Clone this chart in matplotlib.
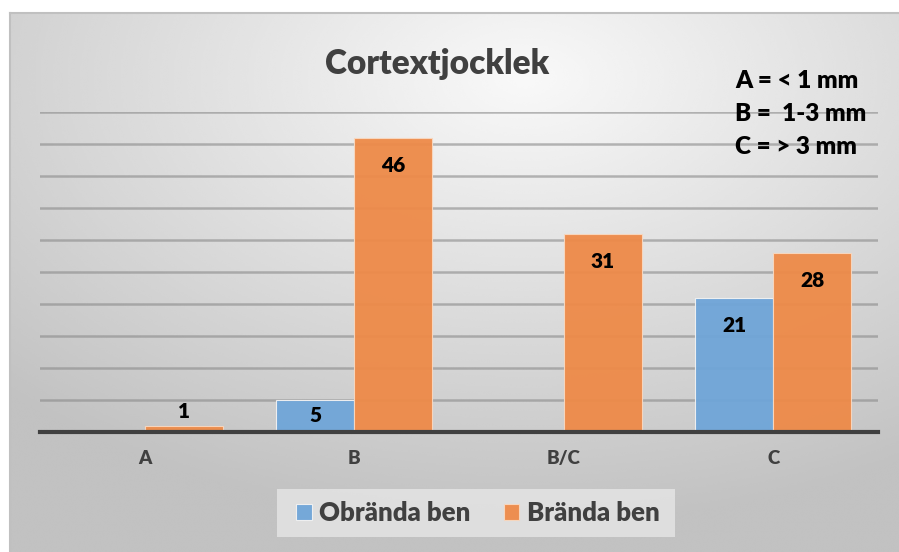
import matplotlib.pyplot as plt
import numpy as np
from matplotlib.patches import Rectangle

# data
categories = ['A', 'B', 'B/C', 'C']
obrande = [0, 5, 0, 21]
brande = [1, 46, 31, 28]
series_names = ['Obrända ben', 'Brända ben']
note_lines = ['A = < 1 mm', 'B =  1-3 mm', 'C = > 3 mm']

blue = '#6FA5D8'
orange = '#EE8A48'
dark = '#404040'
wt = 'heavy'

plt.rcParams['font.family'] = ['Lato', 'DejaVu Sans']
plt.rcParams['font.weight'] = wt

fig = plt.figure(figsize=(8.99, 5.52), dpi=100)
fig.patch.set_facecolor('white')

# background panel with radial gradient
bg = fig.add_axes([10/899, 0, 889/899, 1 - 13/552])
yy, xx = np.mgrid[0:1:300j, 0:1:500j]
r = np.sqrt((xx - 0.58) ** 2 + (yy - 0.12) ** 2)
shade = np.clip(0.975 - 0.26 * r, 0.76, 0.975)
bg.imshow(shade, cmap='gray', vmin=0, vmax=1, aspect='auto',
          extent=[0, 1, 0, 1], origin='upper', interpolation='bicubic')
bg.set_xlim(0, 1)
bg.set_ylim(0, 1)
bg.set_xticks([])
bg.set_yticks([])
for s in bg.spines.values():
    s.set_visible(False)
for s in ['top', 'left']:
    bg.spines[s].set_visible(True)
    bg.spines[s].set_color('#C0C0C0')
    bg.spines[s].set_linewidth(1.5)

ax = fig.add_axes([40/899, 120/552, 838/899, 320/552])
ax.patch.set_alpha(0)
x = np.arange(len(categories))
w = 0.372
b1 = ax.bar(x - w/2, obrande, w, color=blue, alpha=0.95, edgecolor='#F2F2F2',
            linewidth=0.8, label=series_names[0], zorder=3)
b2 = ax.bar(x + w/2, brande, w, color=orange, alpha=0.95, edgecolor='#F8D8C0',
            linewidth=0.8, label=series_names[1], zorder=3)

ax.set_ylim(0, 50)
ax.set_xlim(-0.5, len(categories) - 0.5)
ax.set_yticks(np.arange(5, 51, 5))
ax.yaxis.grid(True, color='#8A8A8A', linewidth=1.8, alpha=0.6, zorder=1)
ax.tick_params(axis='y', length=0, labelleft=False)
ax.tick_params(axis='x', length=0, pad=13)
ax.set_xticks(x)
ax.set_xticklabels(categories, fontsize=13.5, color=dark, fontweight=wt)
for s in ['top', 'right', 'left']:
    ax.spines[s].set_visible(False)
ax.spines['bottom'].set_color(dark)
ax.spines['bottom'].set_linewidth(3)
ax.spines['bottom'].set_zorder(4)

for bars, vals in [(b1, obrande), (b2, brande)]:
    for rect, v in zip(bars, vals):
        if v == 0:
            continue
        cx = rect.get_x() + rect.get_width() / 2
        if v < 3:
            ax.annotate(str(v), (cx, v), xytext=(0, 3), textcoords='offset points',
                        ha='center', va='bottom', fontsize=15, fontweight=wt,
                        color='black', zorder=5)
        elif v < 10:
            ax.annotate(str(v), (cx, v / 2), ha='center', va='center',
                        fontsize=15, fontweight=wt, color='black', zorder=5)
        else:
            ax.annotate(str(v), (cx, v), xytext=(0, -20), textcoords='offset points',
                        ha='center', va='center', fontsize=15, fontweight=wt,
                        color='black', zorder=5)

fig.text(437/899, 1 - 64/552, 'Cortextjocklek', ha='center', va='center',
         fontsize=24, fontweight=wt, color=dark)
for i, line in enumerate(note_lines):
    fig.text(735/899, 1 - (81 + 33 * i)/552, line, ha='left', va='center',
             fontsize=17.5, fontweight=wt, color='black')

# legend box
fig.patches.append(Rectangle((277/899, 1 - 537/552), 398/899, 48/552,
                             transform=fig.transFigure, facecolor='#E4E4E4',
                             edgecolor='none', alpha=0.85, zorder=1))
leg = fig.legend(handles=[b1, b2], labels=series_names, loc='center',
                 bbox_to_anchor=(478/899, 1 - 513/552), ncol=2, frameon=False,
                 fontsize=18.5, handlelength=0.6, handleheight=0.6,
                 handletextpad=0.3, columnspacing=1.3)
for t in leg.get_texts():
    t.set_color(dark)
    t.set_fontweight(wt)

fig.savefig('out.png', dpi=100, facecolor=fig.get_facecolor())
